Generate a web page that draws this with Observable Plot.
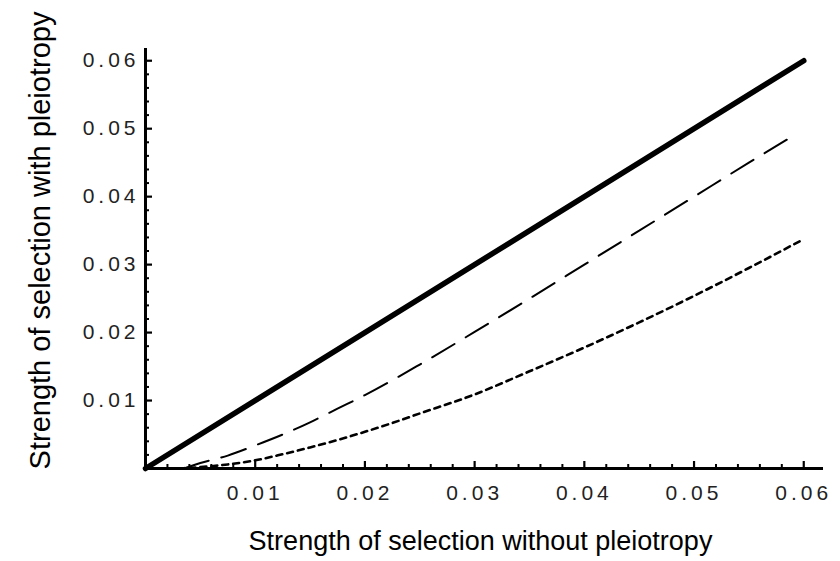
<!DOCTYPE html>
<html>
<head>
<meta charset="utf-8">
<script src="https://cdn.jsdelivr.net/npm/d3@7"></script>
<script src="https://cdn.jsdelivr.net/npm/@observablehq/plot@0.6"></script>
<style>
  html, body { margin: 0; padding: 0; background: white; }
</style>
</head>
<body>
<div id="chart"></div>
<script>
// Axis titles
const xTitle = "Strength of selection without pleiotropy";
const yTitle = "Strength of selection with pleiotropy";

// Major tick values and labels
const xMajor = [0.01, 0.02, 0.03, 0.04, 0.05, 0.06];
const yMajor = [0.01, 0.02, 0.03, 0.04, 0.05, 0.06];
const tickLabels = ["0.01", "0.02", "0.03", "0.04", "0.05", "0.06"];
const minorTicks = [0.002,0.004,0.006,0.008,0.012,0.014,0.016,0.018,0.022,0.024,0.026,0.028,
  0.032,0.034,0.036,0.038,0.042,0.044,0.046,0.048,0.052,0.054,0.056,0.058];

// Solid line (no pleiotropy cost)
const solidX = [0, 0.06];
const solidY = [0, 0.06];

// Dashed line
const dashedX = [0.0035, 0.005, 0.0075, 0.01, 0.0125, 0.015, 0.0175, 0.02, 0.025, 0.03, 0.035, 0.04, 0.045, 0.05, 0.055, 0.0594];
const dashedY = [0, 0.0008, 0.0019, 0.0034, 0.0050, 0.0068, 0.0088, 0.0108, 0.0153, 0.0201, 0.0250, 0.0300, 0.0350, 0.0400, 0.0450, 0.0493];

// Dotted line
const dottedX = [0.003, 0.005, 0.0075, 0.01, 0.0125, 0.015, 0.0175, 0.02, 0.0225, 0.025, 0.03, 0.035, 0.04, 0.045, 0.05, 0.055, 0.0597];
const dottedY = [0, 0.0002, 0.0006, 0.0012, 0.0021, 0.0031, 0.0042, 0.0054, 0.0067, 0.0081, 0.0109, 0.0143, 0.0178, 0.0215, 0.0254, 0.0295, 0.0335];

const toRows = (xs, ys) => xs.map((x, i) => ({x, y: ys[i]}));
const solid = toRows(solidX, solidY);
const dashed = toRows(dashedX, dashedY);
const dotted = toRows(dottedX, dottedY);
const fmt = (d) => tickLabels[xMajor.indexOf(d)] ?? d3.format(".2f")(d);

const chart = Plot.plot({
  width: 840,
  height: 561,
  marginLeft: 145,
  marginRight: 17,
  marginTop: 48,
  marginBottom: 93,
  x: {domain: [0, 0.0618]},
  y: {domain: [0, 0.0618]},
  style: {fontFamily: "'Liberation Sans', Arial, sans-serif", background: "white", color: "black"},
  marks: [
    Plot.line(solid, {x: "x", y: "y", stroke: "black", strokeWidth: 5.5}),
    Plot.line(dashed, {x: "x", y: "y", stroke: "black", strokeWidth: 2, strokeDasharray: "26,13", curve: "monotone-x"}),
    Plot.line(dotted, {x: "x", y: "y", stroke: "black", strokeWidth: 2.6, strokeDasharray: "6,5", curve: "monotone-x"}),
    Plot.ruleY([0], {stroke: "black", strokeWidth: 3}),
    Plot.ruleX([0], {stroke: "black", strokeWidth: 3}),
    Plot.axisX(minorTicks, {tickSize: -4, strokeWidth: 2, fill: "none", label: null}),
    Plot.axisY(minorTicks, {tickSize: -4, strokeWidth: 2, fill: "none", label: null}),
    Plot.axisX(xMajor, {tickSize: -7, strokeWidth: 2.2, tickPadding: 24, tickFormat: fmt, fontSize: 21, fill: "#222", label: null}),
    Plot.axisY(yMajor, {tickSize: -7, strokeWidth: 2.2, tickPadding: 13, tickFormat: fmt, fontSize: 21, fill: "#222", label: null}),
    Plot.text([xTitle], {frameAnchor: "bottom", text: d => d, textAnchor: "middle", lineAnchor: "middle", dx: -4, dy: 73, fontSize: 27, fill: "black"}),
    Plot.text([yTitle], {frameAnchor: "left", text: d => d, textAnchor: "middle", lineAnchor: "middle", rotate: -90, dx: -105, dy: -18, fontSize: 29, fill: "black"})
  ]
});
document.getElementById("chart").appendChild(chart);
d3.select(chart).selectAll("g[aria-label$='tick label'] text").style("letter-spacing", "4px");
</script>
</body>
</html>
